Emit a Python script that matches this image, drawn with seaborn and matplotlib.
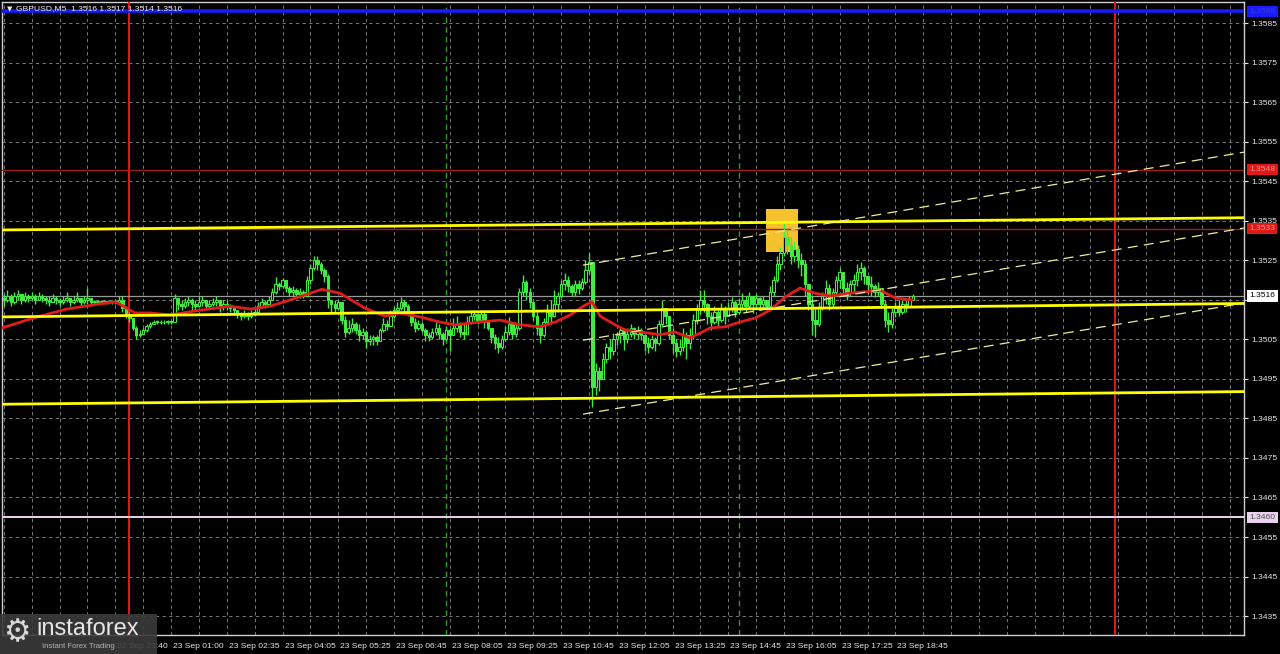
import numpy as np
import pandas as pd
import matplotlib
matplotlib.use("Agg")
import matplotlib.pyplot as plt
import matplotlib.transforms as mtransforms
from matplotlib.patches import Rectangle
import seaborn as sns

# ---------------- data (GBPUSD M5, prices in pips above BASE) ----------------
BASE = 1.3500
PIP = 0.0001
first_open_pips = 15.5

close_pips = [
    15, 16, 14.5, 16, 16.5, 15, 16, 15.5, 16, 15, 16, 15.5,
    15, 14.5, 15.5, 15, 14.5, 15, 15.5, 14.5, 15, 15.5, 14.5, 15,
    15.5, 14.5, 14.5, 14.5, 14.5, 14.5, 14.5, 14.5, 14.5, 15,
    13, 11.5, 10.5,
    8, 6, 6.5,
    7.5, 8.5, 9,
    9.5, 9.5, 9.3, 9.5, 9.5, 9.4,
    15.5,
    14, 13.5, 14.5, 15, 14, 13.5, 14.5, 15, 13.5, 14, 14.5, 15, 13.5, 14, 13.5, 13, 12.5,
    11.5, 11, 11.5, 11, 11.5, 12,
    13.5, 14.5, 14, 15,
    17, 19, 18.5, 20,
    18, 17, 17.5, 16.5, 17, 16,
    20, 23,
    25, 24, 22.5,
    21,
    15,
    14, 13, 14.5,
    10, 7, 8,
    9, 7.5,
    6, 7, 4.5, 5,
    5.5, 4.5,
    7.5, 9, 8.5,
    11, 12.5, 13, 14.5, 13.5, 12,
    9.5, 8, 9, 7.5,
    6, 5.5, 7,
    8, 6.5, 5, 7.5, 6,
    8, 9, 7, 6.5,
    9.5, 11, 11.5, 10, 11.5,
    9.5, 8,
    5.5, 4, 3, 5,
    7, 9, 6.5, 8,
    17, 19.5,
    17, 14.5,
    11, 8, 6,
    9.5, 12, 11,
    14, 16,
    19, 20, 18.5,
    17, 19, 18, 19.5,
    22.5, 24.5,
    -7,
    -3, -5, 0,
    3, 2, 5, 6,
    7.5, 5, 6.5, 8,
    6.5, 7.5, 6,
    4, 3, 5, 4,
    9, 13, 11,
    6, 4, 2, 3,
    6, 4, 6,
    10, 12.5, 15, 14,
    11, 9.5, 12, 10, 13, 11,
    13, 14.5, 12, 14,
    15, 13.5, 16, 14, 15.5,
    14, 15, 13.5,
    17, 20,
    24, 27,
    31, 29,
    26, 28, 25,
    24, 19,
    14, 10, 9, 13,
    16, 18, 14,
    17, 20, 22,
    18, 17, 19,
    20, 22, 23, 21,
    19, 18.5, 17, 18,
    14, 10, 9, 12,
    13, 12, 14, 13.5,
    15, 16,
]

high_pips = [
    16.5, 17.5, 16.5, 17, 17.5, 16.5, 17, 16.5, 17, 16.5, 17, 16.5,
    16, 16, 16.5, 16, 15.5, 16, 17, 15.5, 16, 17, 15.5, 16,
    18, 15.5, 15, 15, 15, 15, 15, 15, 15, 16,
    16, 13.5, 12,
    10.5, 8.5, 7.5,
    8, 9, 9.5,
    10, 10, 9.8, 10, 10, 10,
    16.5,
    15.5, 15, 15.5, 16, 15.5, 15, 16, 16, 15, 15, 15.5, 16, 15, 15, 15, 14, 13.5,
    12.5, 12, 12.5, 12, 12.5, 13,
    14.5, 15.5, 15, 16,
    18, 20.8, 19.5, 20.5,
    19.5, 18.5, 18.5, 18, 18, 17.5,
    21, 24,
    26, 26, 24.5,
    23,
    21.5,
    15, 15, 15,
    14, 11, 10,
    10.5, 9.5,
    9, 8, 7.5, 6,
    6, 6,
    8, 10.5, 10,
    12.5, 13.5, 14.5, 15.8, 15, 14,
    12, 10.5, 10, 9.5,
    8, 7, 8,
    9.4, 9, 7, 8.5, 8,
    10.5, 11, 9.5, 9,
    11, 12.4, 12.5, 11.5, 12.5,
    12, 10,
    8, 6.5, 5.5, 6,
    8.5, 10.7, 9.5, 9,
    18, 21.3,
    20, 18,
    13, 12, 9,
    10.5, 14, 15,
    17.5, 17,
    20, 21.8, 21,
    19, 20, 20, 20.5,
    25, 27,
    24.5,
    -1, -2, 1.5,
    4, 5, 6.6, 7,
    8.2, 8, 8, 9,
    8.2, 8.5, 8,
    6, 5.6, 6, 5.5,
    10, 15, 13,
    11, 8, 5, 5,
    8, 7, 8,
    11.5, 14, 17.5, 17.5,
    14.2, 12, 13.5, 13, 14.2, 13.5,
    14.5, 15.8, 15, 15.5,
    16.7, 16, 17, 16, 16.5,
    15.8, 16, 15,
    18.5, 21,
    26, 28.5,
    34.7, 33,
    31, 30, 29,
    27, 25,
    19, 16, 13, 14.5,
    17, 20, 19,
    18, 21, 23,
    20, 19.5, 20,
    21.5, 24, 24.6, 23.5,
    21, 21, 19, 19.5,
    18, 15, 12, 13,
    14.5, 15, 15, 15,
    16, 16.5,
]

low_pips = [
    13.5, 14.5, 13.5, 14, 15, 14, 14.5, 14.5, 15, 14, 15, 14.5,
    14, 13.5, 14.5, 14, 13.5, 14, 14.5, 13.5, 14, 14.5, 13.5, 14,
    14, 13.8, 14, 14, 14, 14, 14, 14, 14, 14,
    12, 10.5, 9.5,
    7.5, 5, 5.5,
    6.5, 7, 8,
    9, 9, 9, 9, 9, 9,
    9.3,
    12.5, 12.5, 13, 13.5, 12.5, 12.5, 13.5, 13.5, 12.5, 13, 13.5, 13.5, 12, 12.5, 12.5, 12, 11.5,
    10.5, 10, 10.5, 10, 10.5, 11,
    11.5, 13, 13, 13.5,
    15, 16.5, 17.5, 18,
    17, 16, 16, 15.5, 15.5, 15.5,
    16, 19,
    22.5, 22.5, 21.5,
    19.5,
    13,
    12, 12, 12.5,
    9, 5.5, 6.5,
    7, 6.5,
    4.5, 5, 2.8, 3.5,
    3.5, 3.5,
    4.5, 7, 7.5,
    8.5, 10.5, 11.5, 12.5, 12, 11,
    8.5, 7, 7.5, 7,
    4.5, 4.5, 5,
    6, 5, 3.6, 4.5, 2,
    6, 7, 5.5, 5,
    7, 9, 10, 9, 9.5,
    8, 7.5,
    4, 2.5, 1.5, 2.5,
    4.5, 6, 5, 5.5,
    7.5, 16,
    15, 13,
    10, 6, 4,
    5.5, 9, 9,
    10.7, 12,
    15.5, 17.5, 17,
    16, 16, 16.5, 17.5,
    19, 21.5,
    -12,
    -9, -8, -5,
    -1, 0, 1, 3.5,
    4, 2.3, 4, 5.5,
    5, 5, 4.8,
    2, 1.5, 2.5, 2,
    3.5, 8.2, 9,
    5, 1.5, 0.5, 1,
    2, 0, 2.5,
    5, 9, 11.5, 12,
    9, 7.5, 9, 8.5, 9.5, 9,
    11, 12, 10.7, 11.5,
    12.5, 12, 13, 11.7, 13,
    12.4, 13, 12.4,
    13, 16,
    19.5, 22.5,
    26, 26.5,
    24, 24.5, 23,
    21, 16,
    12.5, 6, 5.6, 8.5,
    12.4, 14, 12.4,
    13, 16, 18,
    16, 15, 16,
    17, 18.5, 20, 19,
    16.7, 16, 15.8, 16,
    13, 8.2, 6.9, 8,
    10.7, 11, 11.5, 12,
    14, 15,
]

# moving average (red line), read at sampled bars
ma_bars = [-0.6, 8.4, 18.1, 27.6, 31.9, 34.8, 37.6, 42.0, 47.7, 56.3, 64.9, 70.7,
           76.4, 82.2, 87.9, 91.3, 96.5, 103.7, 109.4, 113.7, 119.5, 125.2, 129.5,
           136.7, 142.5, 148.2, 153.9, 158.3, 162.6, 166.9, 168.9, 171.2, 175.5,
           178.4, 182.7, 188.4, 192.7, 197.0, 199.9, 202.8, 207.1, 211.4, 215.7,
           220.0, 224.3, 228.6, 232.9, 237.2, 243.0, 248.7, 251.6, 255.9, 260.8]
ma_pips = [7.9, 10.4, 12.7, 14.0, 14.5, 13.2, 11.7, 11.7, 11.2, 12.4, 13.4, 12.7,
           13.4, 15.0, 16.7, 17.7, 16.7, 12.9, 10.9, 11.7, 10.7, 9.4, 8.7,
           9.4, 9.9, 8.7, 8.2, 9.4, 11.2, 13.7, 14.5, 10.9, 8.7,
           7.4, 6.9, 6.2, 6.9, 5.4, 6.6, 7.9, 8.2, 9.4, 10.4,
           12.4, 15.7, 18.0, 16.7, 16.0, 16.7, 17.2, 17.5, 15.5, 15.0]

# time axis
time_tick_bars = [32, 48, 64, 80, 96, 112, 128, 144, 160, 176, 192, 208, 224, 240, 256]
time_tick_labels = ["22 Sep 23:40", "23 Sep 01:00", "23 Sep 02:35", "23 Sep 04:05",
                    "23 Sep 05:25", "23 Sep 06:45", "23 Sep 08:05", "23 Sep 09:25",
                    "23 Sep 10:45", "23 Sep 12:05", "23 Sep 13:25", "23 Sep 14:45",
                    "23 Sep 16:05", "23 Sep 17:25", "23 Sep 18:45"]
grid_bar_step = 8
day_sep_bars = [36, 319]
session_bars = [127, 211]

# price axis
price_ticks = [1.3435, 1.3445, 1.3455, 1.3465, 1.3475, 1.3485, 1.3495, 1.3505,
               1.3515, 1.3525, 1.3535, 1.3545, 1.3555, 1.3565, 1.3575, 1.3585]
price_ticks_shown = ["1.3435", "1.3445", "1.3455", "1.3465", "1.3475", "1.3485",
                     "1.3495", "1.3505", "", "1.3525", "1.3535", "1.3545", "1.3555",
                     "1.3565", "1.3575", "1.3585"]
level_blue = 1.3588
level_red_hi = 1.3548
level_red_lo = 1.3533
level_pink = 1.3460
last_price = 1.3516

# thick yellow trend lines (bar, pips)
yellow_bars = [-0.55, 356.1]
yellow_upper = [32.7, 35.8]
yellow_middle = [10.7, 14.1]
yellow_lower = [-11.4, -8.2]

# thin dashed channel lines
chan_bars = [166.3, 356.1]
chan_upper = [23.8, 52.4]
chan_middle = [4.8, 33.2]
chan_lower = [-13.9, 14.2]

# highlighted box
box_bars = [218.8, 228.0]
box_prices = [1.35271, 1.35380]

title_text = "GBPUSD,M5  1.3516 1.3517 1.3514 1.3516"

# ---------------- plotting ----------------
sns.set_theme(style="dark")
plt.rcParams['font.family'] = ['Liberation Sans', 'DejaVu Sans']

W, H = 1280, 654
fig = plt.figure(figsize=(W / 100, H / 100), dpi=100, facecolor='black')
L, R, T, B = 2, 1244, 2, 635
ax = fig.add_axes([L / W, 1 - B / H, (R - L) / W, (B - T) / H])
ax.set_facecolor('black')

def to_price(p):
    return BASE + np.asarray(p, dtype=float) * PIP

closes = to_price(close_pips)
highs = to_price(high_pips)
lows = to_price(low_pips)
opens = np.r_[to_price(first_open_pips), closes[:-1]]
highs = np.maximum(highs, np.maximum(opens, closes))
lows = np.minimum(lows, np.minimum(opens, closes))
idx = np.arange(len(closes))
df = pd.DataFrame({'bar': idx, 'open': opens, 'high': highs, 'low': lows, 'close': closes})

GREEN = '#42ea42'
XMIN, XMAX = -0.55, 356.1
YMIN, YMAX = 1.34302, 1.35904
ax.set_xlim(XMIN, XMAX)
ax.set_ylim(YMIN, YMAX)

# grid
grid_kw = dict(color='#8a8a8a', lw=0.6, ls=(0, (4, 4)), zorder=1)
for g in np.arange(0, XMAX, grid_bar_step):
    ax.axvline(g, **grid_kw)
for pt in price_ticks:
    ax.axhline(pt, **grid_kw)

# highlight box
ax.add_patch(Rectangle((box_bars[0], box_prices[0]), box_bars[1] - box_bars[0],
                       box_prices[1] - box_prices[0], facecolor='#f6c12c',
                       edgecolor='none', zorder=2))

# vertical markers
for b in day_sep_bars:
    ax.axvline(b, color='#e81818', lw=1.4, zorder=3)
for b in session_bars:
    ax.axvline(b, color='#2f9a2f', lw=1.0, ls=(0, (4, 3)), zorder=3)

# horizontal levels
ax.axhline(level_blue, color='#1a1aff', lw=2.6, zorder=3)
ax.axhline(level_red_hi, color='#a01c1c', lw=1.0, zorder=3)
ax.axhline(level_red_lo, color='#a01c1c', lw=1.0, zorder=3)
ax.axhline(level_pink, color='#ecd4ec', lw=1.4, zorder=3)
ax.axhline(last_price, color='#9a9a9a', lw=0.9, zorder=3)

# candles
ax.vlines(df['bar'], df['low'], df['high'], color=GREEN, lw=1.0, zorder=4)
bull = df['close'] >= df['open']
body_bot = np.minimum(df['open'], df['close'])
body_h = np.maximum(np.abs(df['close'] - df['open']), 0.15 * PIP)
ax.bar(df['bar'][bull], body_h[bull], bottom=body_bot[bull], width=0.7,
       color='black', edgecolor=GREEN, linewidth=0.75, zorder=5)
ax.bar(df['bar'][~bull], body_h[~bull], bottom=body_bot[~bull], width=0.7,
       color=GREEN, edgecolor=GREEN, linewidth=0.75, zorder=5)

# moving average
sns.lineplot(x=ma_bars, y=to_price(ma_pips), color='#e01c1c', lw=2.0, ax=ax,
             zorder=6, estimator=None, sort=False)

# yellow trend lines
for ys in (yellow_upper, yellow_middle, yellow_lower):
    sns.lineplot(x=yellow_bars, y=to_price(ys), color='#ffff00', lw=2.0, ax=ax,
                 zorder=7, estimator=None, sort=False)
for ys in (chan_upper, chan_middle, chan_lower):
    ax.plot(chan_bars, to_price(ys), color='#eeee9a', lw=0.9, ls=(0, (8, 5)), zorder=7)

# axes styling
for sp in ax.spines.values():
    sp.set_color('#d0d0d0')
    sp.set_linewidth(1.0)
    sp.set_visible(True)
ax.grid(False)
ax.yaxis.tick_right()
ax.set_yticks(price_ticks)
ax.set_yticklabels(price_ticks_shown)
ax.set_xticks(time_tick_bars)
ax.set_xticklabels(time_tick_labels, ha='left')
ax.tick_params(axis='both', colors='#e6e6e6', labelsize=6.1, length=3, width=0.8,
               direction='out', pad=2)
ax.tick_params(axis='x', pad=2.5)
offset = mtransforms.ScaledTranslation(2 / 100, 0, fig.dpi_scale_trans)
for lbl in ax.get_xticklabels():
    lbl.set_transform(lbl.get_transform() + offset)
ax.set_xlabel('')
ax.set_ylabel('')

# right-side level labels
btr = mtransforms.blended_transform_factory(ax.transAxes, ax.transData)
def level_box(y, text, fc, tc):
    ax.text(1.0045, y, text, transform=btr, ha='left', va='center', fontsize=6.1,
            color=tc, clip_on=False, zorder=20,
            bbox=dict(boxstyle='square,pad=0.25', fc=fc, ec='none'))
level_box(level_blue, "1.3588", '#1a1aff', '#3a3ad8')
level_box(level_red_hi, "1.3548", '#e01818', '#ff8a8a')
level_box(level_red_lo, "1.3533", '#e01818', '#ff8a8a')
level_box(last_price, "1.3516", '#ffffff', '#000000')
level_box(level_pink, "1.3460", '#ead2ee', '#505050')

# title
fig.text(7 / W, 1 - 9 / H, "\u25BC", color='#e8e8e8', fontsize=5, va='center',
         ha='left', family=['DejaVu Sans'], zorder=30)
fig.text(16 / W, 1 - 9 / H, title_text, color='#ececec', fontsize=6.1,
         va='center', ha='left', zorder=30)

# logo
fig.patches.append(Rectangle((0, 0), 157 / W, 40 / H, transform=fig.transFigure,
                             facecolor='#3a3a3a', alpha=0.9, edgecolor='none', zorder=25))
fig.text(3 / W, 1 - 633 / H, "\u2699", color='#d8d8d8', fontsize=22, va='center',
         ha='left', family=['DejaVu Sans'], zorder=30)
fig.text(36 / W, 1 - 629 / H, "instaforex", color='#e6e6e6', fontsize=17,
         va='center', ha='left', zorder=30)
fig.text(42 / W, 1 - 647 / H, "Instant Forex Trading", color='#b8b8b8', fontsize=5.5,
         va='center', ha='left', zorder=30)

fig.savefig('out.png', dpi=100, facecolor='black')
